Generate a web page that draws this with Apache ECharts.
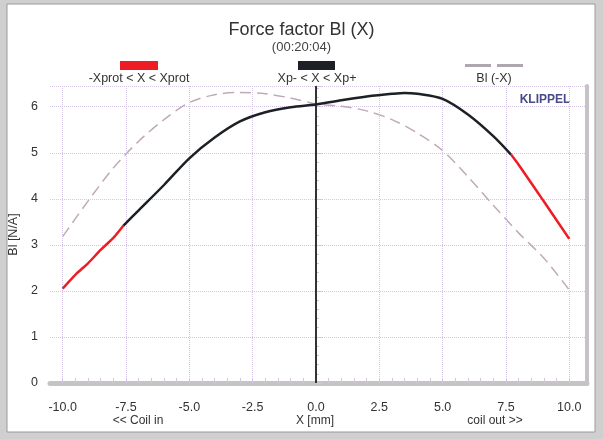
<!DOCTYPE html>
<html>
<head>
<meta charset="utf-8">
<script src="https://cdn.jsdelivr.net/npm/echarts@6/dist/echarts.min.js"></script>
<style>
  html, body { margin: 0; padding: 0; background: #cfcfcf; }
  #chart { width: 603px; height: 439px; }
</style>
</head>
<body>
<div id="chart"></div>
<script>
// Bl(X)
const xPos     = [-10, -9.5, -9, -8.5, -8, -7.6, -7, -6, -5, -4, -3, -2, -1, 0, 1, 2, 3, 3.5, 4, 5, 6, 7, 7.7, 8, 9, 10];
const blValues = [2.05, 2.35, 2.6, 2.89, 3.15, 3.42, 3.75, 4.3, 4.88, 5.33, 5.68, 5.88, 5.99, 6.05, 6.14, 6.22, 6.28, 6.3, 6.28, 6.17, 5.83, 5.36, 4.96, 4.74, 3.94, 3.13];
// index range of the black (Xp- < X < Xp+) part
const xpLeft  = 5;
const xpRight = 22;

// Bl(-X), dashed
const mirrorX = [-10, -9, -8, -7, -6, -5, -4, -3, -2, -1, 0, 1, 2, 3, 4, 5, 6, 7, 8, 9, 10];
const mirrorY = [3.18, 3.95, 4.67, 5.25, 5.72, 6.09, 6.26, 6.31, 6.28, 6.19, 6.06, 6.01, 5.91, 5.72, 5.43, 5.05, 4.48, 3.86, 3.26, 2.71, 2.02];

const xTicks = [-10, -7.5, -5, -2.5, 0, 2.5, 5, 7.5, 10];

const minorX = [];
for (let v = -10; v <= 10; v += 0.5) minorX.push(v);

const pts = (xs, ys) => xs.map((x, i) => [x, ys[i]]);
const all = pts(xPos, blValues);
const redLeft  = all.slice(0, xpLeft + 1);
const black    = all.slice(xpLeft, xpRight + 1);
const redRight = all.slice(xpRight);

const FONT = "Liberation Sans";
const chart = echarts.init(document.getElementById("chart"));

const gridLine = { color: "#d4c6e4", type: "dotted", width: 1 };

const solid = (data, color) => ({
  type: "line",
  data: data,
  smooth: 0.3,
  symbol: "none",
  lineStyle: { color: color, width: 2.5 },
  z: 5,
});

const option = {
  backgroundColor: "#cfcfcf",
  animation: false,
  title: {
    text: "Force factor Bl (X)",
    subtext: "(00:20:04)",
    left: "center",
    top: 16,
    itemGap: 2,
    textStyle: { fontFamily: FONT, fontSize: 18, fontWeight: "normal", color: "#333" },
    subtextStyle: { fontFamily: FONT, fontSize: 13, color: "#444" },
  },
  grid: { left: 50, right: 16, top: 86, bottom: 56, outerBoundsMode: "none" },
  xAxis: [{
    type: "value",
    min: -10.5,
    max: 10.7,
    axisLine: { show: true, onZero: false, lineStyle: { color: "#c6c2c8", width: 5 } },
    axisTick: { show: true, inside: true, length: 5, customValues: minorX, lineStyle: { color: "#d0c8d4" } },
    axisLabel: {
      customValues: xTicks,
      formatter: v => v.toFixed(1),
      margin: 18,
      fontFamily: FONT, fontSize: 12.5, color: "#333",
    },
    splitLine: { show: false },
  }],
  yAxis: [{
    type: "value",
    min: 0,
    max: 6.45,
    interval: 1,
    name: "Bl [N/A]",
    nameLocation: "middle",
    nameGap: 29,
    nameTextStyle: { fontFamily: FONT, fontSize: 12.5, color: "#333" },
    axisLine: { show: true, lineStyle: { color: "#d4c6e4", type: "dotted" } },
    axisTick: { show: true, inside: true, length: 6, lineStyle: { color: "#d0c8d4" } },
    minorTick: { show: true, splitNumber: 5, length: 3, lineStyle: { color: "#d0c8d4" } },
    axisLabel: {
      formatter: v => (Number.isInteger(v) ? String(v) : ""),
      margin: 12,
      fontFamily: FONT, fontSize: 12.5, color: "#333",
    },
    splitLine: { show: true, lineStyle: gridLine },
  }, {
    type: "value",
    position: "right",
    min: 0,
    max: 6.45,
    axisLine: { show: true, lineStyle: { color: "#c6c2c8", width: 4 } },
    axisTick: { show: false },
    axisLabel: { show: false },
    splitLine: { show: false },
  }],
  series: [
    {
      // grid lines and top border
      type: "line",
      data: [],
      silent: true,
      markLine: {
        symbol: "none",
        silent: true,
        label: { show: false },
        lineStyle: gridLine,
        data: xTicks.filter(v => v !== 0).map(v => ({ xAxis: v })).concat([{ yAxis: 6.45 }]),
      },
    },
    {
      // X = 0 marker
      type: "line",
      data: [],
      silent: true,
      markLine: {
        symbol: "none",
        silent: true,
        label: { show: false },
        lineStyle: { color: "#333", width: 2, type: "solid" },
        data: [{ xAxis: 0 }],
      },
      z: 4,
    },
    {
      name: "Bl (-X)",
      type: "line",
      data: pts(mirrorX, mirrorY),
      smooth: 0.3,
      symbol: "none",
      lineStyle: { color: "#c0aab8", width: 1.5, type: [11, 6] },
      z: 3,
    },
    solid(redLeft, "#ee1c25"),
    solid(black, "#1d2024"),
    solid(redRight, "#ee1c25"),
  ],
  graphic: [
    {
      type: "rect", z: -10,
      shape: { x: 7, y: 4, width: 588, height: 428 },
      style: { fill: "#ffffff", stroke: "#9a9a9a", lineWidth: 1 },
    },
    // legend
    { type: "rect", shape: { x: 120, y: 61, width: 38, height: 9 }, style: { fill: "#ee1c25" } },
    { type: "rect", shape: { x: 298, y: 61, width: 37, height: 9 }, style: { fill: "#1d2024" } },
    { type: "rect", shape: { x: 465, y: 64, width: 26, height: 3 }, style: { fill: "#b0a6b0" } },
    { type: "rect", shape: { x: 497, y: 64, width: 26, height: 3 }, style: { fill: "#b0a6b0" } },
    { type: "text", x: 139, y: 79, style: { text: "-Xprot < X < Xprot", align: "center", verticalAlign: "middle", font: "12.5px " + FONT, fill: "#333" } },
    { type: "text", x: 317, y: 79, style: { text: "Xp- < X < Xp+", align: "center", verticalAlign: "middle", font: "12.5px " + FONT, fill: "#333" } },
    { type: "text", x: 494, y: 79, style: { text: "Bl (-X)", align: "center", verticalAlign: "middle", font: "12.5px " + FONT, fill: "#333" } },
    { type: "text", x: 545, y: 100, style: { text: "KLIPPEL", align: "center", verticalAlign: "middle", font: "bold 12px " + FONT, fill: "#4a4a8a" } },
    // bottom captions
    { type: "text", x: 138, y: 421, style: { text: "<< Coil in", align: "center", verticalAlign: "middle", font: "12px " + FONT, fill: "#333" } },
    { type: "text", x: 315, y: 421, style: { text: "X [mm]", align: "center", verticalAlign: "middle", font: "12px " + FONT, fill: "#333" } },
    { type: "text", x: 495, y: 421, style: { text: "coil out >>", align: "center", verticalAlign: "middle", font: "12px " + FONT, fill: "#333" } },
  ],
};

chart.setOption(option);
</script>
</body>
</html>
